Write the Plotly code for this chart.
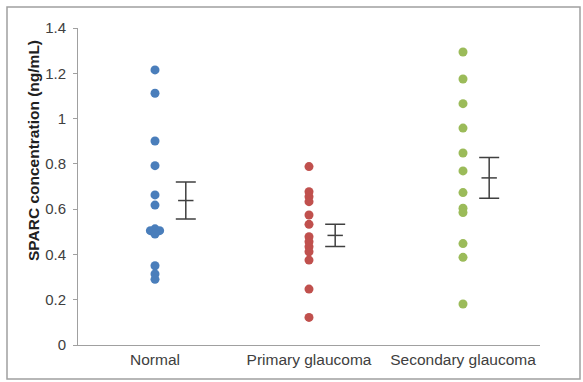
import plotly.graph_objects as go

categories = ["Normal", "Primary glaucoma", "Secondary glaucoma"]
y_ticks = [0, 0.2, 0.4, 0.6, 0.8, 1, 1.2, 1.4]
y_title = "SPARC concentration (ng/mL)"

normal_values = [1.215, 1.112, 0.901, 0.792, 0.663, 0.618, 0.513, 0.505, 0.505, 0.490, 0.350, 0.314, 0.290]
normal_jitter = [0, 0, 0, 0, 0, 0, 0, -0.03, 0.03, 0, 0, 0, 0]
primary_values = [0.788, 0.677, 0.655, 0.633, 0.574, 0.533, 0.478, 0.456, 0.434, 0.412, 0.375, 0.247, 0.122]
secondary_values = [1.294, 1.175, 1.066, 0.958, 0.848, 0.769, 0.673, 0.604, 0.585, 0.448, 0.387, 0.181]

means = [0.638, 0.484, 0.738]
errors = [0.082, 0.049, 0.090]
bar_offsets = [0.2, 0.17, 0.17]

colors = ["#4A7EBB", "#C0504D", "#9BBB59"]

fig = go.Figure()
groups = [normal_values, primary_values, secondary_values]
jitters = [normal_jitter, [0] * len(primary_values), [0] * len(secondary_values)]
for i, (vals, jit) in enumerate(zip(groups, jitters)):
    fig.add_trace(go.Scatter(
        x=[i + j for j in jit], y=vals, mode="markers",
        marker=dict(color=colors[i], size=9, line=dict(width=0)),
        showlegend=False, hoverinfo="y"))

fig.add_trace(go.Scatter(
    x=[i + o for i, o in enumerate(bar_offsets)], y=means, mode="markers",
    marker=dict(symbol="line-ew", size=11, color="#404040",
                line=dict(color="#404040", width=1.5)),
    error_y=dict(type="data", array=errors, symmetric=True, color="#404040",
                 thickness=1.5, width=10),
    showlegend=False))

fig.update_layout(
    width=583, height=382,
    margin=dict(l=78, r=43, t=28, b=37, autoexpand=False),
    paper_bgcolor="white", plot_bgcolor="white",
    font=dict(family="Liberation Sans, Arial, sans-serif", size=15, color="#404040"),
    xaxis=dict(range=[-0.5, 2.5], tickmode="array", tickvals=[0, 1, 2], ticktext=categories,
               showgrid=False, zeroline=False, showline=True, linecolor="#A0A0A0", linewidth=1,
               ticks="", automargin=False, tickfont=dict(size=15.5, color="#404040")),
    yaxis=dict(range=[0, 1.4], tickmode="array", tickvals=y_ticks,
               ticktext=[("%g" % v) for v in y_ticks],
               showgrid=False, zeroline=False, showline=True, linecolor="#A0A0A0", linewidth=1,
               ticks="outside", ticklen=4, tickcolor="#A0A0A0", ticklabelstandoff=4,
               automargin=False,
               tickfont=dict(size=15, color="#404040")),
    annotations=[dict(text="<b>" + y_title + "</b>", xref="paper", yref="paper",
                      x=-45/462, y=194/317, xanchor="center", yanchor="middle",
                      textangle=-90, showarrow=False,
                      font=dict(size=15.5, color="#202020"))],
    shapes=[dict(type="rect", xref="paper", yref="paper",
                 x0=-71/462, x1=1 + 40/462, y0=-34/317, y1=1 + 21/317,
                 line=dict(color="#A0A0A0", width=1.5), fillcolor="rgba(0,0,0,0)", layer="below")],
)

fig.write_html("out.html", config={"displayModeBar": False},
               post_script="document.body.style.margin='0';document.body.style.overflow='hidden';")
